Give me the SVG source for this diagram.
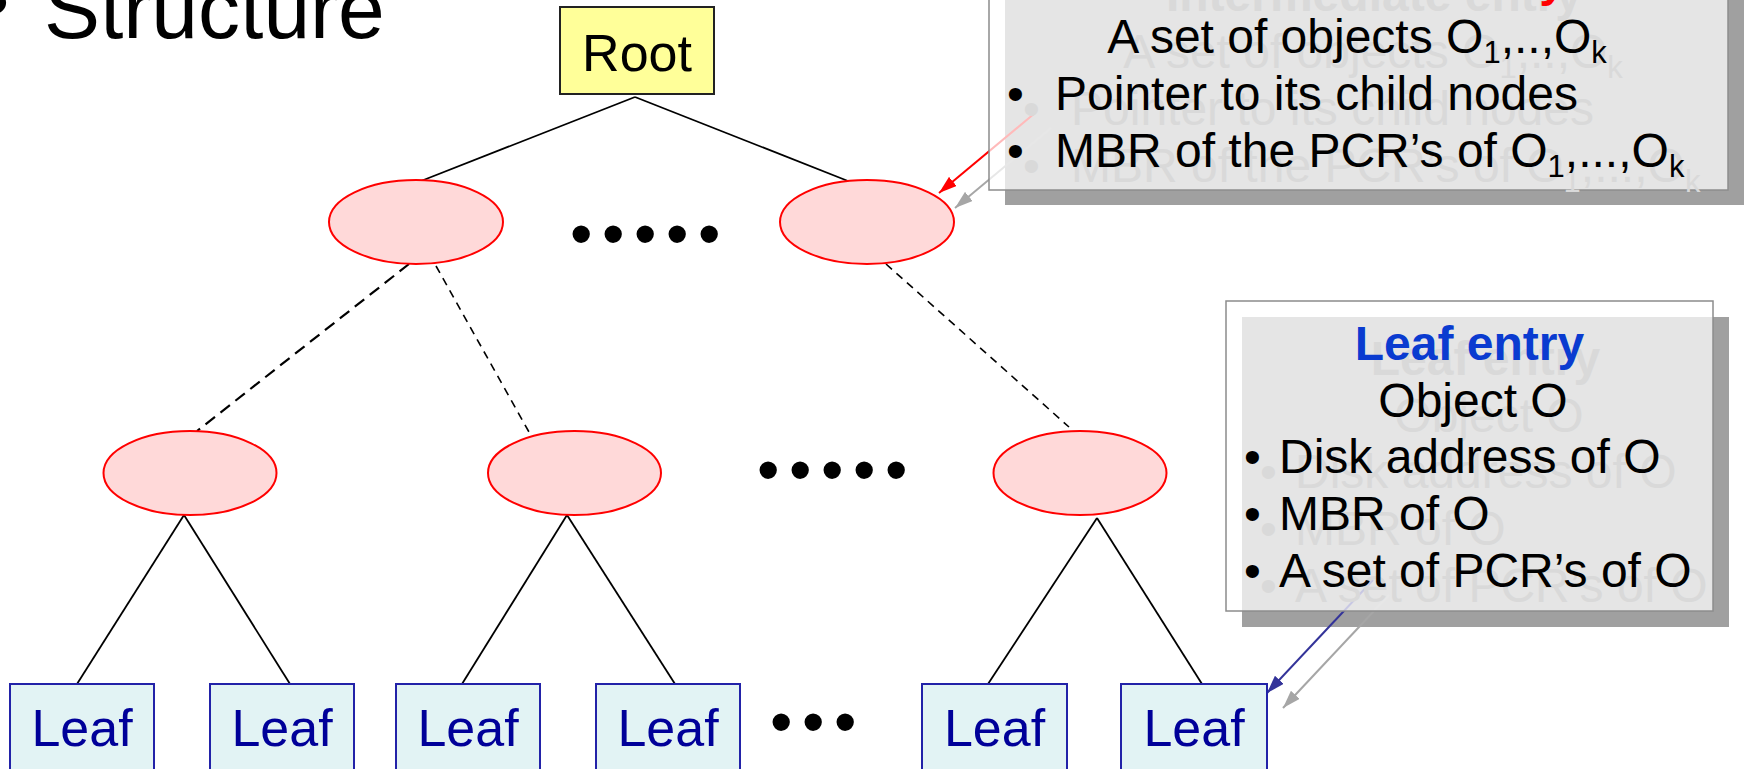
<svg xmlns="http://www.w3.org/2000/svg" width="1747" height="769" viewBox="0 0 1747 769">
  <defs>
    <style>
      text { font-family: "Liberation Sans", Arial, sans-serif; }
      .edge { stroke: #000; stroke-width: 1.8; fill: none; }
      .dash-a { stroke: #000; stroke-width: 2.2; stroke-dasharray: 12 7; fill: none; }
      .dash-b { stroke: #000; stroke-width: 1.6; stroke-dasharray: 8 6; fill: none; }
      .inner { fill: #ffd9d9; stroke: #ff0000; stroke-width: 2; }
      .leaf rect { fill: #e2f3f4; stroke: #2222a8; stroke-width: 2; }
      .leaf text { font-size: 52px; fill: #000099; text-anchor: middle; }
      .dots { font-size: 64px; letter-spacing: 9.6px; fill: #000; }
      .callout { fill: #ffffff; fill-opacity: 0.73; stroke: #8c8c8c; stroke-width: 1.5; }
      .cshadow { fill: #a0a0a0; }
      .body { font-size: 48px; fill: #000; }
      .ghost text { fill: #d9d9d9; }
      .mid { text-anchor: middle; }
      .sub { font-size: 31px; }
      .ptr-red { stroke: #ff0000; stroke-width: 2; fill: none; }
      .ptr-blue { stroke: #333399; stroke-width: 2; fill: none; }
      .ptr-grey { stroke: #a6a6a6; stroke-width: 2; fill: none; }
    </style>
    <marker id="head-red" viewBox="0 0 18 12" refX="18" refY="6" markerWidth="18" markerHeight="12" markerUnits="userSpaceOnUse" orient="auto">
      <path d="M0,0 L18,6 L0,12 z" fill="#ff0000"/>
    </marker>
    <marker id="head-blue" viewBox="0 0 18 12" refX="18" refY="6" markerWidth="18" markerHeight="12" markerUnits="userSpaceOnUse" orient="auto">
      <path d="M0,0 L18,6 L0,12 z" fill="#333399"/>
    </marker>
    <marker id="head-grey" viewBox="0 0 18 12" refX="18" refY="6" markerWidth="18" markerHeight="12" markerUnits="userSpaceOnUse" orient="auto">
      <path d="M0,0 L18,6 L0,12 z" fill="#a6a6a6"/>
    </marker>
  </defs>

  <rect x="0" y="0" width="1747" height="769" fill="#ffffff"/>

  <!-- slide heading, partly off the top edge -->
  <g id="heading">
    <text x="-20" y="30" style="font-size:84px">•</text>
    <text x="44" y="38" style="font-size:84px">Structure</text>
  </g>

  <!-- drop shadows of the two callouts -->
  <g id="callout-shadows">
    <rect class="cshadow" x="1005" y="-5" width="739" height="210"/>
    <rect class="cshadow" x="1242" y="317" width="487" height="310"/>
  </g>

  <!-- tree edges and callout pointers -->
  <g id="connectors">
    <line class="edge" x1="635" y1="97" x2="421" y2="181"/>
    <line class="edge" x1="635" y1="97" x2="848" y2="181"/>

    <line class="dash-a" x1="409" y1="264" x2="197" y2="431"/>
    <line class="dash-b" x1="436" y1="266" x2="529" y2="432"/>
    <line class="dash-b" x1="886" y1="264" x2="1069" y2="427"/>

    <line class="edge" x1="184" y1="515" x2="77" y2="684"/>
    <line class="edge" x1="184" y1="515" x2="290" y2="684"/>
    <line class="edge" x1="567" y1="515" x2="462" y2="684"/>
    <line class="edge" x1="567" y1="515" x2="675" y2="684"/>
    <line class="edge" x1="1097" y1="518" x2="988" y2="684"/>
    <line class="edge" x1="1097" y1="518" x2="1202" y2="684"/>

    <line class="ptr-grey" x1="1051" y1="128" x2="955" y2="208" marker-end="url(#head-grey)"/>
    <line class="ptr-red" x1="1035" y1="113" x2="939" y2="193" marker-end="url(#head-red)"/>
    <line class="ptr-grey" x1="1389" y1="595" x2="1283" y2="708" marker-end="url(#head-grey)"/>
    <line class="ptr-blue" x1="1373" y1="580" x2="1267" y2="693" marker-end="url(#head-blue)"/>
  </g>

  <g id="root">
    <rect x="560" y="7" width="154" height="87" fill="#ffff99" stroke="#222" stroke-width="2"/>
    <text x="637" y="71" class="mid" style="font-size:52px">Root</text>
  </g>

  <g id="inner-1-left"><ellipse class="inner" cx="416" cy="222" rx="87" ry="42"/></g>
  <g id="inner-1-right"><ellipse class="inner" cx="867" cy="222" rx="87" ry="42"/></g>
  <g id="dots-1"><text class="dots" x="570" y="256">•••••</text></g>

  <g id="inner-2-a"><ellipse class="inner" cx="190" cy="473" rx="86.5" ry="42"/></g>
  <g id="inner-2-b"><ellipse class="inner" cx="574.5" cy="473" rx="86.5" ry="42"/></g>
  <g id="inner-2-c"><ellipse class="inner" cx="1080" cy="473" rx="86.5" ry="42"/></g>
  <g id="dots-2"><text class="dots" x="757" y="492">•••••</text></g>

  <g id="leaf-1" class="leaf"><rect x="10" y="684" width="144" height="100"/><text x="82" y="746">Leaf</text></g>
  <g id="leaf-2" class="leaf"><rect x="210" y="684" width="144" height="100"/><text x="282" y="746">Leaf</text></g>
  <g id="leaf-3" class="leaf"><rect x="396" y="684" width="144" height="100"/><text x="468" y="746">Leaf</text></g>
  <g id="leaf-4" class="leaf"><rect x="596" y="684" width="144" height="100"/><text x="668" y="746">Leaf</text></g>
  <g id="dots-3"><text class="dots" x="770" y="744">•••</text></g>
  <g id="leaf-5" class="leaf"><rect x="922" y="684" width="145" height="100"/><text x="994.5" y="746">Leaf</text></g>
  <g id="leaf-6" class="leaf"><rect x="1121" y="684" width="146" height="100"/><text x="1194" y="746">Leaf</text></g>

  <!-- callout: intermediate entry -->
  <g id="intermediate-entry">
    <rect class="callout" x="989" y="-20" width="739" height="210"/>
    <g class="ghost" transform="translate(16,15)">
      <text x="1358" y="-4" class="mid" style="font-size:48px;font-weight:bold">Intermediate entry</text>
      <text x="1357" y="53" class="body mid">A set of objects O<tspan class="sub" dy="10">1</tspan><tspan dy="-10">,..,O</tspan><tspan class="sub" dy="10">k</tspan></text>
      <text x="1007" y="110" class="body">•</text>
      <text x="1055" y="110" class="body">Pointer to its child nodes</text>
      <text x="1007" y="167" class="body">•</text>
      <text x="1055" y="167" class="body">MBR of the PCR’s of O<tspan class="sub" dy="10">1</tspan><tspan dy="-10">,...,O</tspan><tspan class="sub" dy="10">k</tspan></text>
    </g>
    <text x="1358" y="-4" class="mid" style="font-size:48px;font-weight:bold;fill:#ff0000">Intermediate entry</text>
    <text x="1357" y="53" class="body mid">A set of objects O<tspan class="sub" dy="10">1</tspan><tspan dy="-10">,..,O</tspan><tspan class="sub" dy="10">k</tspan></text>
    <text x="1007" y="110" class="body">•</text>
    <text x="1055" y="110" class="body">Pointer to its child nodes</text>
    <text x="1007" y="167" class="body">•</text>
    <text x="1055" y="167" class="body">MBR of the PCR’s of O<tspan class="sub" dy="10">1</tspan><tspan dy="-10">,...,O</tspan><tspan class="sub" dy="10">k</tspan></text>
  </g>

  <!-- callout: leaf entry -->
  <g id="leaf-entry">
    <rect class="callout" x="1226" y="301" width="487" height="310"/>
    <g class="ghost" transform="translate(16,15)">
      <text x="1469.5" y="360" class="mid" style="font-size:48px;font-weight:bold">Leaf entry</text>
      <text x="1473" y="417" class="body mid">Object O</text>
      <text x="1244" y="473" class="body">•</text>
      <text x="1279" y="473" class="body">Disk address of O</text>
      <text x="1244" y="530" class="body">•</text>
      <text x="1279" y="530" class="body">MBR of O</text>
      <text x="1244" y="587" class="body">•</text>
      <text x="1279" y="587" class="body">A set of PCR’s of O</text>
    </g>
    <text x="1469.5" y="360" class="mid" style="font-size:48px;font-weight:bold;fill:#0a3bd0">Leaf entry</text>
    <text x="1473" y="417" class="body mid">Object O</text>
    <text x="1244" y="473" class="body">•</text>
    <text x="1279" y="473" class="body">Disk address of O</text>
    <text x="1244" y="530" class="body">•</text>
    <text x="1279" y="530" class="body">MBR of O</text>
    <text x="1244" y="587" class="body">•</text>
    <text x="1279" y="587" class="body">A set of PCR’s of O</text>
  </g>
</svg>
